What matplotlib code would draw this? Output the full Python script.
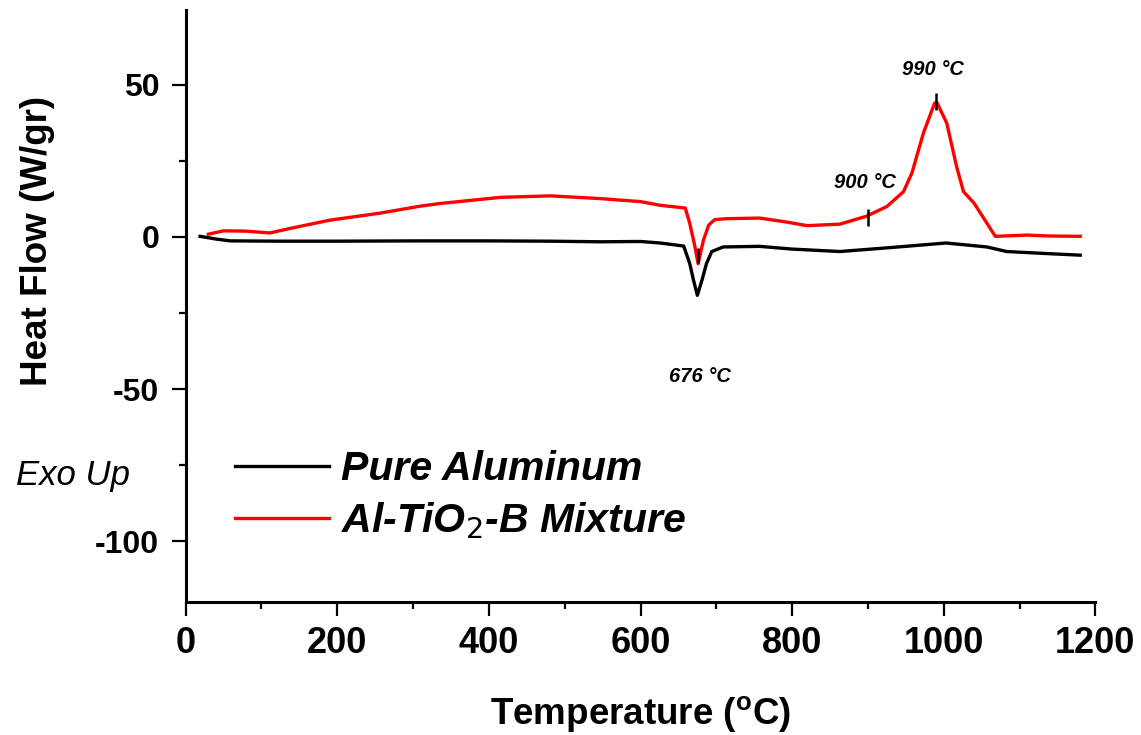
import matplotlib
matplotlib.use("Agg")
import matplotlib.pyplot as plt
from matplotlib.ticker import MultipleLocator

plt.rcParams['font.family'] = ['Liberation Sans', 'DejaVu Sans']
plt.rcParams['axes.unicode_minus'] = False
plt.rcParams['mathtext.fontset'] = 'custom'
plt.rcParams['mathtext.it'] = 'Liberation Sans:bold:italic'
plt.rcParams['mathtext.bf'] = 'Liberation Sans:bold'

# Pure aluminum (black)
temp_al = [19, 40, 59, 124, 200, 309, 397, 480, 547, 600, 626, 657, 665, 670, 675,
           681, 687, 694, 709, 757, 800, 863, 930, 1003, 1057, 1083, 1130, 1180]
flow_al = [0.2, -0.7, -1.3, -1.4, -1.4, -1.3, -1.3, -1.4, -1.6, -1.5, -2.0, -3.0, -8.8, -14.3, -19.2,
           -14.3, -8.8, -4.8, -3.3, -3.1, -4.0, -4.8, -3.5, -2.0, -3.3, -4.8, -5.4, -6.0]

# Al-TiO2-B mixture (red)
temp_mix = [30, 50, 80, 111, 138, 190, 256, 309, 336, 415, 481, 547, 600, 626, 659,
            665, 671, 676, 683, 690, 698, 714, 757, 790, 820, 863, 898, 925, 947, 958,
            973, 988, 991, 1004, 1017, 1026, 1040, 1068, 1110, 1140, 1180]
flow_mix = [0.9, 2.0, 1.9, 1.3, 2.8, 5.5, 7.8, 10.1, 11.0, 13.0, 13.5, 12.6, 11.6, 10.4, 9.5,
            4.4, -2.2, -8.8, -1.1, 3.9, 5.7, 6.0, 6.2, 5.0, 3.7, 4.2, 6.8, 10.0, 14.9, 21.0,
            34.0, 44.0, 44.2, 37.4, 23.1, 14.9, 11.1, 0.2, 0.6, 0.3, 0.2]

# small vertical marks and their labels
mark_temp = [676, 900, 990]
mark_lo = [-8.5, 3.6, 41.6]
mark_hi = [-3.7, 9.1, 47.4]
label_text = ['676 °C', '900 °C', '990 °C']
label_x = [679, 896, 986]
label_y = [-46, 18, 55]

fig = plt.figure(figsize=(11.41, 7.35), dpi=100)
ax = fig.add_axes([0.1627, 0.181, 0.7973, 0.805])

ax.plot(temp_al, flow_al, color='black', lw=2.4, label='Pure Aluminum')
ax.plot(temp_mix, flow_mix, color='#ff0000', lw=2.4, label=r'Al-TiO$_\mathit{2}$-B Mixture')
ax.vlines(mark_temp, mark_lo, mark_hi, color='black', lw=1.8)
for t, lx, ly in zip(label_text, label_x, label_y):
    ax.text(lx, ly, t, ha='center', va='center', fontsize=14.5, fontweight='bold', style='italic')

ax.set_xlim(0, 1200)
ax.set_ylim(-120, 74.5)
ax.xaxis.set_major_locator(MultipleLocator(200))
ax.xaxis.set_minor_locator(MultipleLocator(100))
ax.yaxis.set_major_locator(MultipleLocator(50))
ax.yaxis.set_minor_locator(MultipleLocator(25))

for s in ['top', 'right']:
    ax.spines[s].set_visible(False)
for s in ['left', 'bottom']:
    ax.spines[s].set_linewidth(2.2)

ax.tick_params(which='major', direction='out', length=10, width=1.6)
ax.tick_params(which='minor', direction='out', length=5, width=1.6)
ax.tick_params(axis='x', which='major', labelsize=26, pad=7)
ax.tick_params(axis='y', which='major', labelsize=23, pad=9)
for lab in ax.get_xticklabels() + ax.get_yticklabels():
    lab.set_fontweight('bold')

ax.set_xlabel(r'Temperature ($^\mathbf{o}$C)', fontsize=26.5, fontweight='bold', labelpad=24)
ax.set_ylabel('Heat Flow (W/gr)', fontsize=26.5, fontweight='bold')
ax.yaxis.set_label_coords(-0.1436, 0.611)

fig.text(73 / 1141, 1 - 476 / 735, 'Exo Up', fontsize=25, style='italic', ha='center', va='center')

leg = ax.legend(loc='upper left', bbox_to_anchor=(0.054, 0.256), frameon=False,
                prop={'size': 29.5, 'weight': 'bold', 'style': 'italic'},
                handlelength=2.3, handletextpad=0.3, labelspacing=0.3,
                borderpad=0, borderaxespad=0)

fig.savefig('out.png', dpi=100)
